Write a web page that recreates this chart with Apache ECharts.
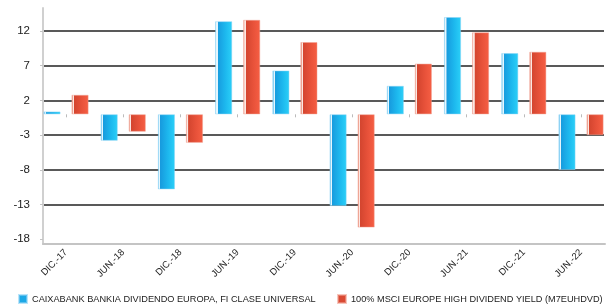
<!DOCTYPE html>
<html>
<head>
<meta charset="utf-8">
<script src="https://cdn.jsdelivr.net/npm/echarts@6/dist/echarts.min.js"></script>
<style>
html,body{margin:0;padding:0;background:#fff;}
#c{width:615px;height:305px;}
</style>
</head>
<body>
<div id="c"></div>
<script>
const categories = ['DIC.-17','JUN.-18','DIC.-18','JUN.-19','DIC.-19','JUN.-20','DIC.-20','JUN.-21','DIC.-21','JUN.-22'];
const seriesNames = ['CAIXABANK BANKIA DIVIDENDO EUROPA, FI CLASE UNIVERSAL', '100% MSCI EUROPE HIGH DIVIDEND YIELD (M7EUHDVD)'];
const fundValues = [0.4, -3.8, -10.8, 13.4, 6.3, -13.2, 4.1, 14.0, 8.8, -8.0];
const indexValues = [2.8, -2.5, -4.1, 13.6, 10.4, -16.3, 7.3, 11.8, 9.0, -3.0];
const yTicks = { min: -18, max: 12, interval: 5 };

const FONT = 'Liberation Sans, Arial, sans-serif';
const blueGrad = new echarts.graphic.LinearGradient(0, 0, 1, 0, [
  {offset: 0, color: '#8fd3f4'},
  {offset: 0.07, color: '#8fd3f4'},
  {offset: 0.08, color: '#e6f6fd'},
  {offset: 0.14, color: '#e6f6fd'},
  {offset: 0.15, color: '#179bde'},
  {offset: 0.6, color: '#1db8ee'},
  {offset: 1, color: '#2bd0f8'}
]);
const redGrad = new echarts.graphic.LinearGradient(0, 0, 1, 0, [
  {offset: 0, color: '#eea595'},
  {offset: 0.07, color: '#eea595'},
  {offset: 0.08, color: '#fbe7e2'},
  {offset: 0.14, color: '#fbe7e2'},
  {offset: 0.15, color: '#d3452f'},
  {offset: 0.6, color: '#e8523a'},
  {offset: 1, color: '#f65f44'}
]);

const legendCommon = {
  top: 289, orient: 'horizontal',
  itemWidth: 8, itemHeight: 8, itemGap: 0,
  icon: 'rect',
  selectedMode: false,
  textStyle: {fontSize: 9.2, color: '#222', fontFamily: FONT}
};

const chart = echarts.init(document.getElementById('c'), null, {renderer: 'canvas'});
chart.setOption({
  backgroundColor: '#fff',
  animation: false,
  textStyle: {fontFamily: FONT},
  legend: [
    Object.assign({}, legendCommon, {left: 13, width: 330, data: [{name: seriesNames[0], itemStyle: {color: '#1ca8e6'}}]}),
    Object.assign({}, legendCommon, {left: 332, width: 290, data: [{name: seriesNames[1], itemStyle: {color: '#d94a33'}}]})
  ],
  grid: [
    {left: 66, right: 34, top: 31, bottom: 65.7},
    {left: 43, right: 11, top: 31, bottom: 65.7},
    {left: 43, right: 10, top: 8, bottom: 61}
  ],
  xAxis: [
    {
      gridIndex: 0, type: 'category', data: categories, boundaryGap: false,
      offset: 4.7,
      axisLine: {show: false},
      axisTick: {show: true, length: 3, lineStyle: {color: '#bbb', width: 1}},
      axisLabel: {rotate: 45, fontSize: 9.5, color: '#222', margin: 7, fontFamily: FONT},
      splitLine: {show: false}
    },
    {gridIndex: 1, type: 'value', min: 0, max: 1, show: false},
    {
      gridIndex: 2, type: 'value', min: 0, max: 1,
      axisLine: {show: true, lineStyle: {color: '#c4c4c4', width: 2}},
      axisTick: {show: false}, axisLabel: {show: false}, splitLine: {show: false}
    }
  ],
  yAxis: [
    {gridIndex: 0, type: 'value', min: yTicks.min, max: yTicks.max, interval: yTicks.interval, show: false},
    {
      gridIndex: 1, type: 'value', min: yTicks.min, max: yTicks.max, interval: yTicks.interval,
      offset: 4,
      axisLine: {show: false},
      axisTick: {show: true, length: 3, lineStyle: {color: '#c4c4c4', width: 1}},
      axisLabel: {fontSize: 11.5, color: '#222', margin: 9, fontFamily: FONT},
      splitLine: {show: true, showMinLine: false, lineStyle: {color: '#222', width: 1.5}}
    },
    {
      gridIndex: 2, type: 'value', min: 0, max: 1, offset: 4,
      axisLine: {show: true, lineStyle: {color: '#d0d0d0', width: 2}},
      axisTick: {show: false}, axisLabel: {show: false}, splitLine: {show: false}
    }
  ],
  series: [
    {
      name: seriesNames[0], type: 'bar', xAxisIndex: 0, yAxisIndex: 0,
      data: fundValues, barWidth: 17, barGap: '65%', clip: false,
      itemStyle: {color: blueGrad, borderColor: 'rgba(140,210,245,0.6)', borderWidth: 0.8}
    },
    {
      name: seriesNames[1], type: 'bar', xAxisIndex: 0, yAxisIndex: 0,
      data: indexValues, barWidth: 17, barGap: '65%', clip: false,
      itemStyle: {color: redGrad, borderColor: 'rgba(240,160,145,0.6)', borderWidth: 0.8}
    }
  ]
});
</script>
</body>
</html>
